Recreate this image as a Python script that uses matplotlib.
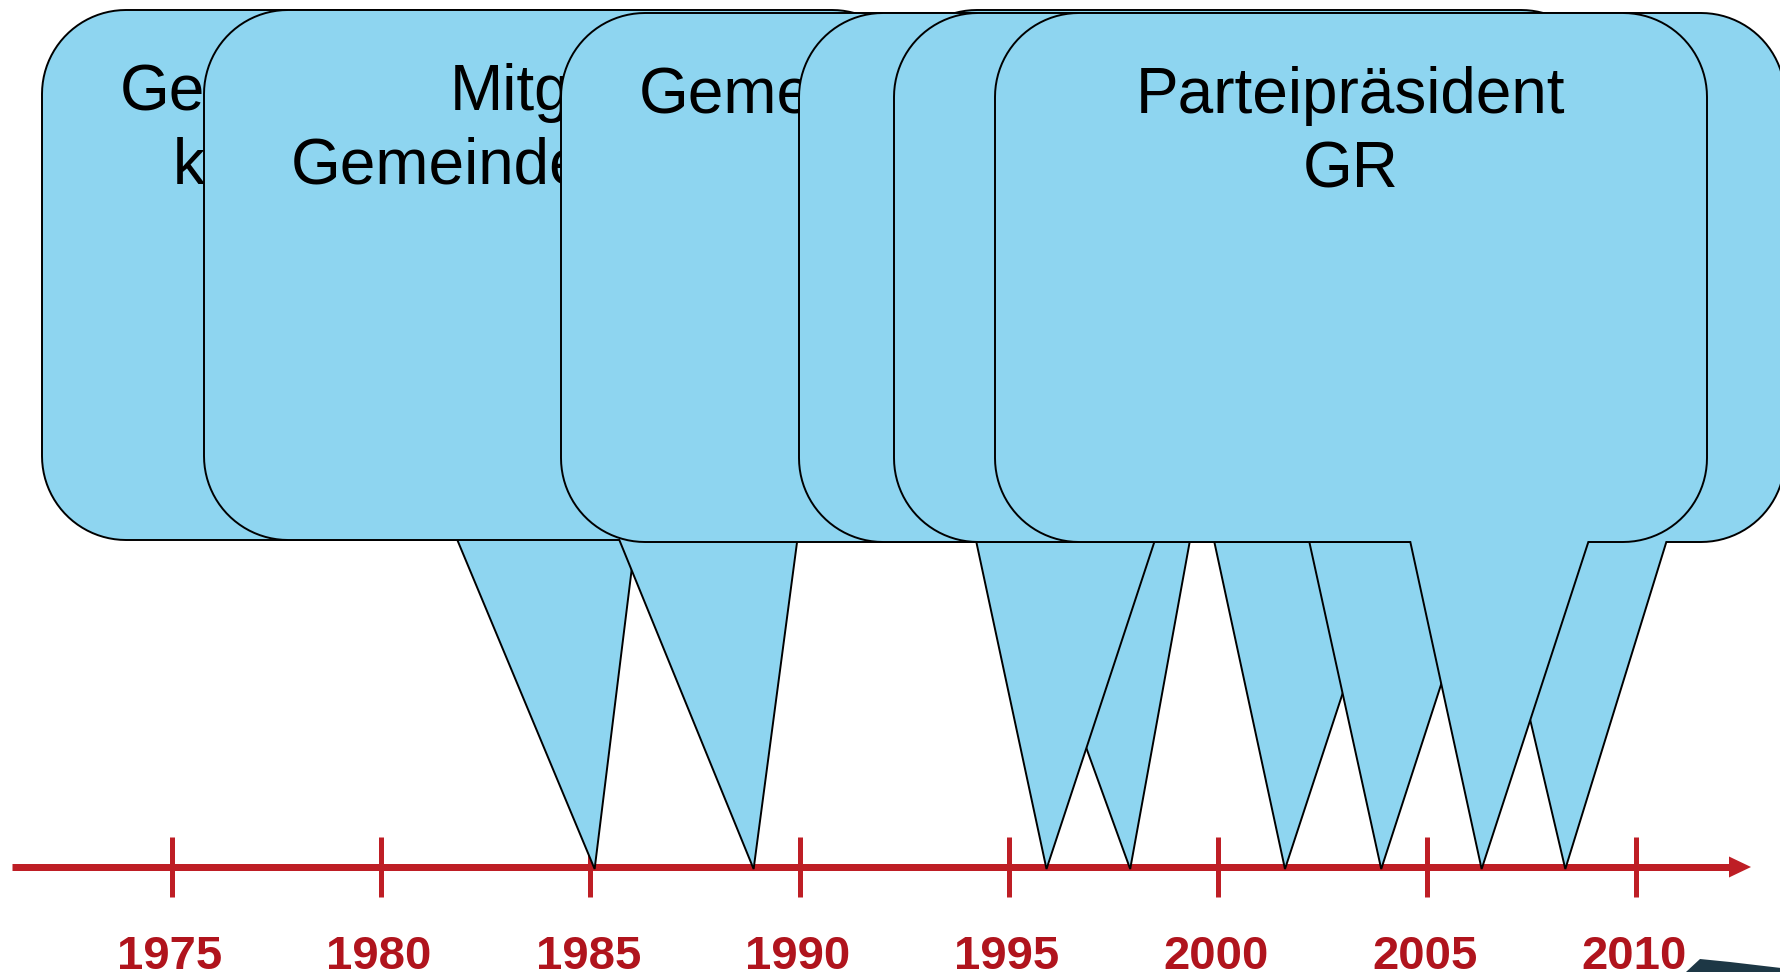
import numpy as np
import matplotlib
matplotlib.use("Agg")
import matplotlib.pyplot as plt
from matplotlib.patches import Polygon

# ---------------- data ----------------
tick_years = [1975, 1980, 1985, 1990, 1995, 2000, 2005, 2010]
tick_labels = ["1975", "1980", "1985", "1990", "1995", "2000", "2005", "2010"]

# callout tips on the time axis (years), in order of the tips
event_years = [1985.1, 1988.9, 1995.9, 1997.9, 2001.6, 2003.9, 2006.3, 2008.3]
event_labels = [
    "Geschäftsprüfungs-\nkommission GR",
    "Mitglied\nGemeindevorstand",
    "Gemeindepräsident",
    "",
    "",
    "",
    "Parteipräsident\nGR",
    "",
]

# ---------------- layout (pixels) ----------------
W, H = 1781, 972
DPI = 100
AXIS_Y = 867
YEAR_MIN, YEAR_MAX = 1970.888, 2013.455   # horizontal extent of the figure in years

# callout box layout: left edge, top, bottom (px), and stacking order
box_left = [42, 204, 561, 893, 799, 894, 995, 1073]
box_top = [10, 10, 13, 10, 13, 13, 13, 13]
box_bottom = [540, 540, 542, 542, 542, 542, 542, 542]
box_order = [0, 1, 3, 2, 4, 5, 7, 6]
BOX_W = 712
RADIUS = 84
BASELINE_OFFSET = 100
LINE_STEP = 74

BOX_FC = "#8ED5F0"
LINE_RED = "#BE1E25"
LABEL_RED = "#B0141D"

plt.rcParams["font.family"] = ["Liberation Sans", "DejaVu Sans"]

fig = plt.figure(figsize=(W / DPI, H / DPI), dpi=DPI)
fig.patch.set_facecolor("white")

# time axes: x in years, y in pixels (downwards)
ax = fig.add_axes([0, 0, 1, 1])
ax.set_xlim(YEAR_MIN, YEAR_MAX)
ax.set_ylim(H, 0)
ax.axis("off")

# pixel overlay axes for the callouts
axp = fig.add_axes([0, 0, 1, 1])
axp.set_xlim(0, W)
axp.set_ylim(H, 0)
axp.axis("off")
axp.patch.set_alpha(0)


def year_to_px(year):
    disp = ax.transData.transform((year, AXIS_Y))
    return axp.transData.inverted().transform(disp)[0]


# ---- time axis line with arrow ----
axp.plot([12, 1736], [AXIS_Y, AXIS_Y], color=LINE_RED, lw=7 * 72 / DPI,
         solid_capstyle="butt", zorder=1)
axp.add_patch(Polygon([(1729, AXIS_Y - 10.5), (1751, AXIS_Y), (1729, AXIS_Y + 10.5)],
                      closed=True, fc=LINE_RED, ec="none", zorder=1))

# ticks and labels (year scale)
ax.vlines(tick_years, AXIS_Y - 30, AXIS_Y + 30, color=LINE_RED, lw=5 * 72 / DPI, zorder=2)
for yr, lab in zip(tick_years, tick_labels):
    ax.text(yr - 0.05, 969, lab, ha="center", va="baseline", fontsize=34,
            fontweight="bold", color=LABEL_RED, zorder=3)


# ---- callouts ----
def arc(cx, cy, r, a0, a1, n=24):
    a = np.radians(np.linspace(a0, a1, n))
    return list(zip(cx + r * np.cos(a), cy + r * np.sin(a)))


def callout_points(L, T, B, w, r, tipx, tipy):
    R = L + w
    if tipx >= L + w / 2:
        b0, b1 = L + 7 * w / 12, L + 10 * w / 12
    else:
        b0, b1 = L + 2 * w / 12, L + 5 * w / 12
    pts = [(L + r, T), (R - r, T)]
    pts += arc(R - r, T + r, r, -90, 0)
    pts += arc(R - r, B - r, r, 0, 90)
    pts += [(b1, B), (tipx, tipy), (b0, B)]
    pts += arc(L + r, B - r, r, 90, 180)
    pts += arc(L + r, T + r, r, 180, 270)
    return pts


for z, i in enumerate(box_order):
    tipx = year_to_px(event_years[i])
    L, T, B = box_left[i], box_top[i], box_bottom[i]
    pts = callout_points(L, T, B, BOX_W, RADIUS, tipx, AXIS_Y + 2)
    axp.add_patch(Polygon(pts, closed=True, fc=BOX_FC, ec="black",
                          lw=1.4, joinstyle="miter", zorder=10 + 2 * z))
    if event_labels[i]:
        base = T + BASELINE_OFFSET
        for k, line in enumerate(event_labels[i].split("\n")):
            axp.text(L + BOX_W / 2, base + k * LINE_STEP, line, ha="center",
                     va="baseline", fontsize=46, color="black",
                     zorder=11 + 2 * z)

# small dark fragment in the bottom-right corner
axp.add_patch(Polygon([(1686, 972), (1700, 959), (1730, 962), (1781, 968), (1781, 972)],
                      closed=True, fc="#1d3745", ec="none", zorder=5))

fig.savefig("out.png", dpi=DPI, facecolor="white")
